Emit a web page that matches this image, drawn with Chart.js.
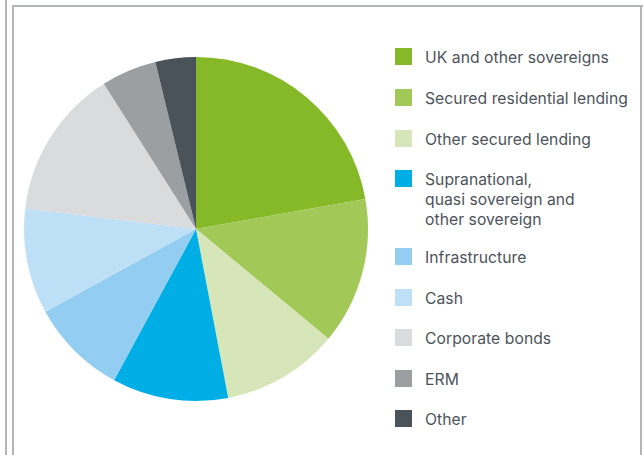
<!DOCTYPE html>
<html>
<head>
<meta charset="utf-8">
<script src="https://cdn.jsdelivr.net/npm/chart.js@4"></script>
<style>
  html, body { margin: 0; padding: 0; background: #fff; }
  body { width: 643px; height: 455px; position: relative; overflow: hidden; font-family: "Inter", sans-serif; }
  .rule { position: absolute; background: #b3b6b9; }
  #pieWrap { position: absolute; left: 20px; top: 53px; width: 352px; height: 352px; }
  #legend { position: absolute; left: 395px; top: 0; }
  .item { position: absolute; left: 0; white-space: nowrap; }
  .sw { position: absolute; left: 0; width: 17px; height: 17px; }
  .txt { position: absolute; left: 30px; top: 0; color: #4d535a; font-size: 15.7px; line-height: 20px; letter-spacing: 0.05px; }
</style>
</head>
<body>
<div class="rule" style="left:5px;top:0;width:2px;height:455px"></div>
<div class="rule" style="left:12px;top:5px;width:2px;height:450px"></div>
<div class="rule" style="left:12px;top:5px;width:631px;height:2px"></div>
<div class="rule" style="left:640px;top:5px;width:2px;height:450px"></div>

<div id="pieWrap"><canvas id="pie"></canvas></div>
<div id="legend"></div>

<script>
/* --------------------- DATA --------------------- */
const labels = [
  "UK and other sovereigns",
  "Secured residential lending",
  "Other secured lending",
  "Supranational,\nquasi sovereign and\nother sovereign",
  "Infrastructure",
  "Cash",
  "Corporate bonds",
  "ERM",
  "Other"
];
const shares = [22.2, 13.8, 11.0, 10.9, 9.1, 9.9, 14.1, 5.2, 3.8];
const colours = [
  "#85b928", "#a2c858", "#d6e6b8", "#00aee6", "#93cdf1",
  "#bee0f7", "#d9dbdc", "#9c9fa2", "#4a525a"
];
// top of each legend row (first text line)
const legendRows = [48, 89, 130, 170, 248, 289, 329, 370, 410];

/* --------------------- PIE --------------------- */
new Chart(document.getElementById("pie"), {
  type: "pie",
  data: {
    labels: labels,
    datasets: [{ data: shares, backgroundColor: colours, borderWidth: 0 }]
  },
  options: {
    responsive: true,
    maintainAspectRatio: false,
    animation: false,
    layout: { padding: 4 },
    plugins: { legend: { display: false }, tooltip: { enabled: false } }
  }
});

/* --------------------- LEGEND --------------------- */
const legendDiv = document.getElementById("legend");
labels.forEach((l, i) => {
  const item = document.createElement("div");
  item.className = "item";
  item.style.top = legendRows[i] + "px";
  item.innerHTML = `
    <div class="sw" style="background:${colours[i]};top:0px"></div>
    <div class="txt">${l.replace(/\n/g, "<br>")}</div>
  `;
  legendDiv.appendChild(item);
});
</script>
</body>
</html>
